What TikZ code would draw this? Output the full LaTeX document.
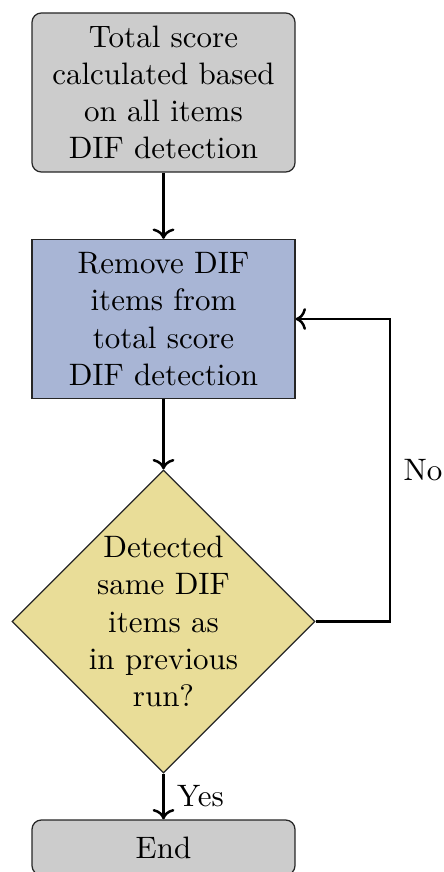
\documentclass[tikz,border=0pt]{standalone}
\usetikzlibrary{shapes.geometric,arrows.meta}

\definecolor{startgray}{RGB}{204,204,204}
\definecolor{procblue}{RGB}{168,181,213}
\definecolor{decyellow}{RGB}{233,221,152}

\tikzset{
  box/.style={draw=black!85, minimum width=84.84pt, minimum height=51.3pt,
              inner sep=0pt, align=center},
  terminal/.style={box, rounded corners=3pt, fill=startgray},
  process/.style={box, fill=procblue},
  decision/.style={diamond, draw=black!85, fill=decyellow, inner sep=0pt,
                   minimum width=97.75pt, minimum height=97.75pt},
  flow/.style={->, thick},
}

\begin{document}
\begin{tikzpicture}[x=0.3226pt, y=-0.3226pt]
  % page frame
  \useasboundingbox (0,0) rectangle (443,872);

  \node[terminal] (start) at (163.5,92.5)
    {Total score\\calculated based\\on all items\\DIF detection};
  \node[process] (remove) at (163.5,319)
    {Remove DIF\\items from\\total score\\DIF detection};
  \node[decision] (dec) at (163.5,621.5) {};
  \node[align=center, inner sep=0pt] (dectext) at (dec.center)
    {Detected\\same DIF\\items as\\in previous\\run?};
  \node[terminal, minimum height=17.74pt] (end) at (163.5,847.5) {End};

  \coordinate (turn) at (390,621.5);

  \draw[flow] (start) -- (remove);
  \draw[flow] (remove) -- (dec);
  \draw[flow] (dec) -- node[right, inner sep=4pt] (yes) {Yes} (end);
  \draw[flow] (dec.east) -- (turn) |- node[pos=0.25, right, inner sep=4pt] (no) {No} (remove.east);
\end{tikzpicture}
\end{document}
